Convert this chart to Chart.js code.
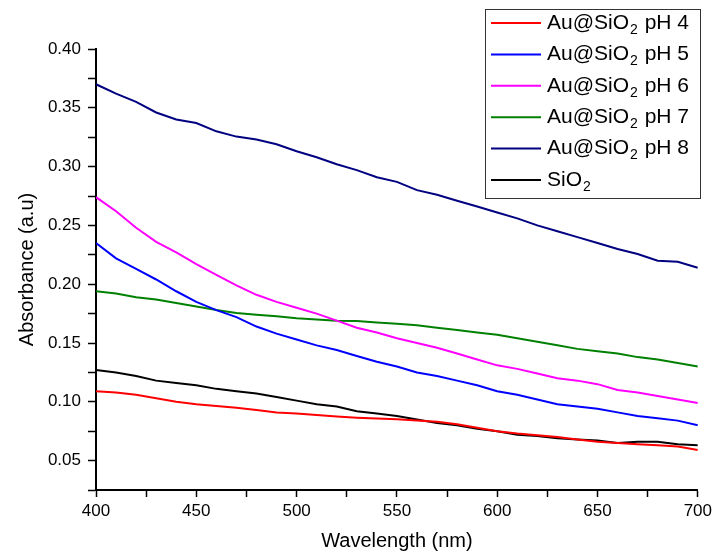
<!DOCTYPE html>
<html>
<head>
<meta charset="utf-8">
<script src="https://cdn.jsdelivr.net/npm/chart.js@4.4.1/dist/chart.umd.min.js"></script>
<style>
    body { margin: 0; background: #ffffff; }
    #wrap { width: 716px; height: 553px; }
</style>
</head>
<body>
<div id="wrap">
    <canvas id="absChart" width="716" height="553"></canvas>
</div>
<script>
/*
============================================================
UV-Vis absorbance spectra
------------------------------------------------------------
Au@SiO2 at several pH values, plus bare SiO2
============================================================
*/

const wavelengths = [
    400, 410, 420, 430, 440, 450, 460, 470, 480, 490,
    500, 510, 520, 530, 540, 550, 560, 570, 580, 590,
    600, 610, 620, 630, 640, 650, 660, 670, 680, 690, 700
];

const seriesLabels = [
    "Au@SiO₂ pH 4",
    "Au@SiO₂ pH 5",
    "Au@SiO₂ pH 6",
    "Au@SiO₂ pH 7",
    "Au@SiO₂ pH 8",
    "SiO₂"
];

const ph4 = [
    0.109, 0.108, 0.106, 0.103, 0.100, 0.098, 0.0965, 0.095, 0.093, 0.091,
    0.090, 0.0887, 0.0875, 0.0865, 0.0858, 0.0852, 0.084, 0.083, 0.081, 0.078,
    0.075, 0.073, 0.0715, 0.070, 0.068, 0.066, 0.065, 0.064, 0.063, 0.062, 0.059
];

const ph5 = [
    0.235, 0.222, 0.213, 0.204, 0.194, 0.185, 0.178, 0.172, 0.164, 0.158,
    0.153, 0.148, 0.144, 0.139, 0.134, 0.130, 0.125, 0.122, 0.118, 0.114,
    0.109, 0.106, 0.102, 0.098, 0.096, 0.094, 0.091, 0.088, 0.086, 0.084, 0.080
];

const ph6 = [
    0.274, 0.262, 0.248, 0.236, 0.227, 0.217, 0.208, 0.199, 0.191, 0.185,
    0.180, 0.175, 0.169, 0.163, 0.159, 0.154, 0.150, 0.146, 0.141, 0.136,
    0.131, 0.128, 0.124, 0.120, 0.118, 0.115, 0.110, 0.108, 0.105, 0.102, 0.099
];

const ph7 = [
    0.194, 0.192, 0.189, 0.187, 0.184, 0.181, 0.178, 0.1756, 0.174, 0.1727,
    0.171, 0.170, 0.169, 0.1688, 0.1675, 0.1663, 0.165, 0.163, 0.161, 0.159,
    0.157, 0.154, 0.151, 0.148, 0.145, 0.143, 0.141, 0.138, 0.136, 0.133, 0.130
];

const ph8 = [
    0.370, 0.362, 0.355, 0.346, 0.340, 0.337, 0.330, 0.3255, 0.323, 0.319,
    0.313, 0.308, 0.302, 0.297, 0.291, 0.287, 0.280, 0.276, 0.271, 0.266,
    0.261, 0.256, 0.250, 0.245, 0.240, 0.235, 0.230, 0.2257, 0.220, 0.219, 0.214
];

const sio2 = [
    0.127, 0.125, 0.122, 0.118, 0.116, 0.114, 0.111, 0.109, 0.107, 0.104,
    0.101, 0.098, 0.096, 0.092, 0.090, 0.088, 0.085, 0.082, 0.080, 0.077,
    0.075, 0.072, 0.071, 0.069, 0.068, 0.067, 0.065, 0.066, 0.066, 0.064, 0.063
];

const seriesValues = [ph4, ph5, ph6, ph7, ph8, sio2];

const seriesColors = [
    "#ff0000",
    "#0000ff",
    "#ff00ff",
    "#008000",
    "#000080",
    "#000000"
];

const FONT = "'Liberation Sans', Arial, sans-serif";

/*
------------------------------------------------------------
Boxed legend with a real subscript 2
------------------------------------------------------------
*/

function drawSubText(ctx, text, x, y) {

    const parts = text.split("₂");

    let cx = x;

    parts.forEach((part, i) => {

        ctx.font = "21px " + FONT;
        ctx.fillText(part, cx, y);
        cx += ctx.measureText(part).width;

        if (i < parts.length - 1) {
            ctx.font = "14px " + FONT;
            ctx.fillText("2", cx + 1, y + 7);
            cx += ctx.measureText("2").width + 2;
        }

    });

}

const boxLegend = {

    id: "boxLegend",

    afterDraw(chart) {

        const ctx = chart.ctx;
        const left = 485.5, top = 9.5, w = 215, h = 189;

        ctx.save();

        ctx.fillStyle = "#ffffff";
        ctx.fillRect(left, top, w, h);
        ctx.strokeStyle = "#333333";
        ctx.lineWidth = 1;
        ctx.strokeRect(left, top, w, h);

        ctx.textBaseline = "middle";
        ctx.textAlign = "left";

        chart.data.datasets.forEach((ds, i) => {

            const y = 23 + i * 31.4;

            ctx.strokeStyle = ds.borderColor;
            ctx.lineWidth = 2;
            ctx.beginPath();
            ctx.moveTo(491, y);
            ctx.lineTo(541, y);
            ctx.stroke();

            ctx.fillStyle = "#000000";
            drawSubText(ctx, ds.label, 547, y);

        });

        ctx.restore();

    }

};

/*
------------------------------------------------------------
Chart
------------------------------------------------------------
*/

const ctx = document.getElementById("absChart").getContext("2d");

new Chart(ctx, {

    type: "line",

    data: {

        datasets: seriesLabels.map((label, i) => ({

            label: label,

            data: wavelengths.map((wl, j) => ({ x: wl, y: seriesValues[i][j] })),

            borderColor: seriesColors[i],

            backgroundColor: seriesColors[i],

            borderWidth: 2,

            pointRadius: 0,

            tension: 0,

            fill: false

        }))

    },

    options: {

        responsive: false,

        animation: false,

        layout: {
            padding: { left: 0, top: 49, right: 15, bottom: 0 }
        },

        plugins: {
            legend: { display: false },
            tooltip: { enabled: false }
        },

        scales: {

            x: {

                type: "linear",

                min: 400,

                max: 700,

                afterFit(scale) { scale.height = 63; },

                border: { display: true, color: "#000000", width: 2 },

                grid: {
                    drawOnChartArea: false,
                    drawTicks: true,
                    tickLength: 7,
                    color: "#000000",
                    tickWidth: 1.5
                },

                ticks: {
                    stepSize: 25,
                    padding: 4,
                    color: "#000000",
                    maxRotation: 0,
                    autoSkip: false,
                    font: { family: FONT, size: 17 },
                    callback: (v) => (v % 50 === 0 ? String(v) : "")
                },

                title: {
                    display: true,
                    text: "Wavelength (nm)",
                    color: "#000000",
                    padding: { top: 0, bottom: 0 },
                    font: { family: FONT, size: 20 }
                }

            },

            y: {

                min: 0.025,

                max: 0.40,

                afterFit(scale) { scale.width = 96; },

                border: { display: true, color: "#000000", width: 2 },

                grid: {
                    drawOnChartArea: false,
                    drawTicks: true,
                    tickLength: 8,
                    color: "#000000",
                    tickWidth: 1.5
                },

                ticks: {
                    stepSize: 0.025,
                    padding: 7,
                    color: "#000000",
                    autoSkip: false,
                    font: { family: FONT, size: 17 },
                    callback: (v) => (Math.round(v * 1000) % 50 === 0 ? v.toFixed(2) : "")
                },

                title: {
                    display: true,
                    text: "Absorbance (a.u)",
                    color: "#000000",
                    padding: { top: 15, bottom: 0 },
                    font: { family: FONT, size: 20 }
                }

            }

        }

    },

    plugins: [boxLegend]

});
</script>
</body>
</html>
